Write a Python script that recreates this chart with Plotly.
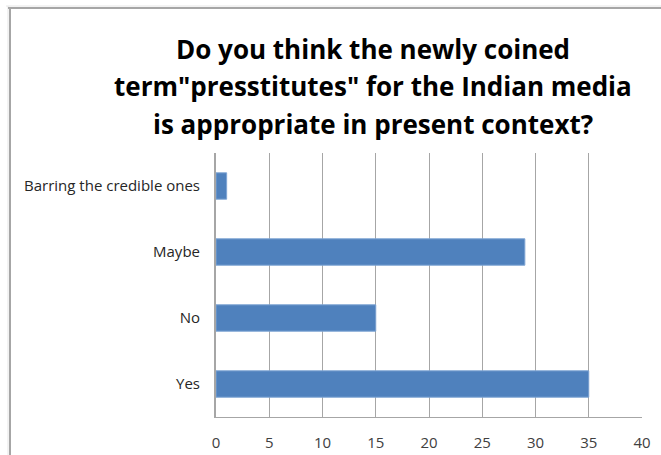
import plotly.graph_objects as go

# Survey responses
categories = ["Yes", "No", "Maybe", "Barring the credible ones"]
counts = [35, 15, 29, 1]
x_ticks = [0, 5, 10, 15, 20, 25, 30, 35, 40]
title_lines = [
    "Do you think the newly coined",
    "term\"presstitutes\" for the Indian media",
    "is appropriate in present context?",
]

W, H = 661, 455
L, R, T, B = 216, 19, 153, 38
plot_h = H - T - B
plot_w = W - L - R

fig = go.Figure(
    go.Bar(
        x=counts,
        y=categories,
        orientation="h",
        marker=dict(color="#4F81BD", line=dict(color="#7FA5D4", width=1)),
        width=0.4,
    )
)

fig.update_layout(
    width=W,
    height=H,
    margin=dict(l=L, r=R, t=T, b=B, pad=0),
    paper_bgcolor="white",
    plot_bgcolor="white",
    showlegend=False,
    font=dict(family="Open Sans", color="#262626", size=15),
)

fig.update_xaxes(
    range=[0, 40],
    tickvals=x_ticks,
    ticktext=[str(v) for v in x_ticks],
    showgrid=True,
    gridcolor="#A6A6A6",
    gridwidth=1,
    showline=True,
    linecolor="#A6A6A6",
    linewidth=1,
    mirror=False,
    ticks="",
    ticklabelstandoff=12,
    zeroline=False,
    automargin=False,
    tickfont=dict(family="Open Sans", size=15, color="#404040"),
)
fig.update_yaxes(
    range=[-0.5, 3.5],
    showgrid=False,
    showline=True,
    linecolor="#A6A6A6",
    linewidth=2,
    ticks="",
    ticklabelstandoff=11,
    automargin=False,
    tickfont=dict(family="Open Sans", size=15, color="#262626"),
)

# Title lines, each placed on its own row
title_y_px = [49, 86, 124]
for text, ypx in zip(title_lines, title_y_px):
    fig.add_annotation(
        text=f"<b>{text}</b>",
        xref="paper",
        yref="paper",
        x=(373 - L) / plot_w,
        y=(H - B - ypx) / plot_h,
        xanchor="center",
        yanchor="middle",
        showarrow=False,
        font=dict(family="Open Sans", size=26, color="black"),
    )

# Chart frame (top and left edges)
def px_x(p):
    return (p - L) / plot_w

def px_y(p):
    return (H - B - p) / plot_h

for color, off in [("#E6E6E6", 6), ("#A6A6A6", 8)]:
    fig.add_shape(type="line", xref="paper", yref="paper",
                  x0=px_x(off), x1=px_x(W + 5), y0=px_y(off), y1=px_y(off),
                  line=dict(color=color, width=2 if off == 8 else 1))
    fig.add_shape(type="line", xref="paper", yref="paper",
                  x0=px_x(off + 2), x1=px_x(off + 2), y0=px_y(off), y1=px_y(H + 5),
                  line=dict(color=color, width=2 if off == 8 else 1))

fig.write_html("out.html")
